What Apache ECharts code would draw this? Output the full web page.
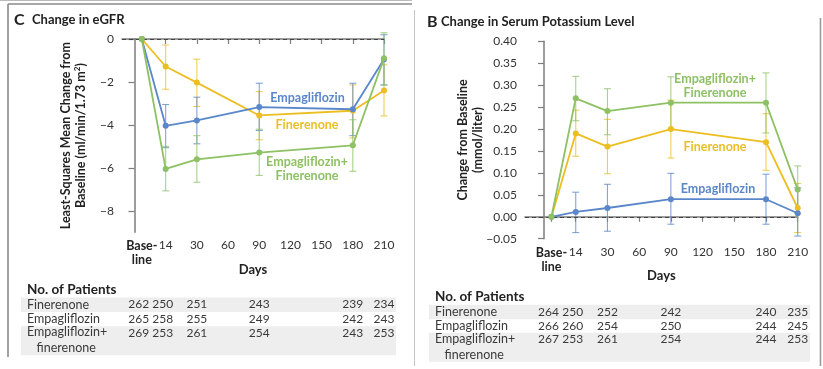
<!DOCTYPE html>
<html><head><meta charset="utf-8">
<script src="https://cdn.jsdelivr.net/npm/echarts@6/dist/echarts.min.js"></script>
<style>html,body{margin:0;padding:0;background:#fff}#c{width:823px;height:369px}</style>
</head><body><div id="c"></div>
<script>
// ---------- data ----------
const tickLabels = ['Base-line','14','30','60','90','120','150','180','210'];
const tickPos = [0.235, 1, 2, 3, 4, 5, 6, 7, 8];           // axis coordinate of each tick
const timeIdx = [0, 1, 2, 4, 7, 8];                         // measured timepoints -> tick index

// eGFR (ml/min/1.73 m2)
const egfrFin      = [0, -1.28, -2.03, -3.56, -3.34, -2.40];
const egfrFinLo    = [null, -2.34, -3.14, -4.69, -4.61, -3.58];
const egfrFinHi    = [null, -0.28, -0.94, -2.45, -2.14, -1.20];
const egfrEmp      = [0, -4.04, -3.79, -3.17, -3.27, -0.94];
const egfrEmpLo    = [null, -5.06, -4.88, -4.26, -4.50, -2.14];
const egfrEmpHi    = [null, -3.05, -2.71, -2.06, -2.06, 0.20];
const egfrCombo    = [0, -6.05, -5.60, -5.29, -4.95, -0.90];
const egfrComboLo  = [null, -7.07, -6.67, -6.35, -6.16, -2.14];
const egfrComboHi  = [null, -5.00, -4.50, -4.20, -3.76, 0.29];

// Serum potassium (mmol/liter)
const kFin     = [0, 0.19, 0.16, 0.20, 0.17, 0.02];
const kFinLo   = [null, 0.138, 0.098, 0.134, 0.106, -0.036];
const kFinHi   = [null, 0.243, 0.222, 0.266, 0.235, 0.076];
const kEmp     = [0, 0.011, 0.02, 0.04, 0.04, 0.008];
const kEmpLo   = [null, -0.036, -0.033, -0.017, -0.017, -0.044];
const kEmpHi   = [null, 0.056, 0.074, 0.099, 0.097, 0.066];
const kCombo   = [0, 0.27, 0.241, 0.26, 0.26, 0.062];
const kComboLo = [null, 0.219, 0.187, 0.200, 0.191, 0.008];
const kComboHi = [null, 0.320, 0.292, 0.319, 0.328, 0.116];

// Number of patients
const rowNames = ['Finerenone', 'Empagliflozin', 'Empagliflozin+\n   finerenone'];
const nEgfrFin   = [262, 250, 251, 243, 239, 234];
const nEgfrEmp   = [265, 258, 255, 249, 242, 243];
const nEgfrCombo = [269, 253, 261, 254, 243, 253];
const nKFin      = [264, 250, 252, 242, 240, 235];
const nKEmp      = [266, 260, 254, 250, 244, 245];
const nKCombo    = [267, 253, 261, 254, 244, 253];

// ---------- styles ----------
const BLUE = '#5a87c9', YEL = '#ecbe22', GRN = '#8dc163';
const FONT = 'Lato, "Open Sans", sans-serif';
const AXC = '#7d7d7d';

function pts(vals) { return vals.map((v, i) => [tickPos[timeIdx[i]], v]); }
function bars(lo, hi) {
  const out = [];
  lo.forEach((l, i) => { if (l !== null) out.push([tickPos[timeIdx[i]], l, hi[i]]); });
  return out;
}

function xAxisFor(gi, min) {
  return {
    type: 'value', gridIndex: gi, min: min, max: 8,
    name: 'Days', nameLocation: 'middle', nameGap: 31, nameMoveOverlap: false,
    nameTextStyle: { fontFamily: FONT, fontWeight: 'bold', fontSize: 13, color: '#222' },
    axisLine: { show: true, lineStyle: { color: AXC, width: 1.5 } },
    axisTick: { show: true, customValues: tickPos, length: 5, lineStyle: { color: AXC, width: 1.2 } },
    axisLabel: {
      customValues: tickPos, margin: 7, color: '#333', fontFamily: FONT, fontSize: 12,
      formatter: v => {
        let best = 0; tickPos.forEach((p, i) => { if (Math.abs(p - v) < Math.abs(tickPos[best] - v)) best = i; });
        const t = tickLabels[best];
        return best === 0 ? '{b|Base-}\n{b|line}' : t;
      },
      rich: { b: { fontFamily: FONT, fontWeight: 'bold', fontSize: 12.5, color: '#222', lineHeight: 14 } }
    },
    splitLine: { show: false }
  };
}

function lineSeries(gi, name, data, color, z) {
  return {
    type: 'line', name, xAxisIndex: gi, yAxisIndex: gi, data: pts(data),
    symbol: 'circle', symbolSize: 6, clip: false,
    lineStyle: { color, width: 1.8 }, itemStyle: { color }, z: z
  };
}
function errSeries(gi, lo, hi, color, z) {
  return {
    type: 'custom', xAxisIndex: gi, yAxisIndex: gi, data: bars(lo, hi), clip: false, z: z,
    renderItem: (params, api) => {
      const x = api.value(0);
      const a = api.coord([x, api.value(1)]);
      const b = api.coord([x, api.value(2)]);
      const w = 3.5;
      const st = { stroke: color, lineWidth: 1.1, opacity: 0.75 };
      return { type: 'group', children: [
        { type: 'line', shape: { x1: a[0], y1: a[1], x2: b[0], y2: b[1] }, style: st },
        { type: 'line', shape: { x1: a[0] - w, y1: a[1], x2: a[0] + w, y2: a[1] }, style: st },
        { type: 'line', shape: { x1: b[0] - w, y1: b[1], x2: b[0] + w, y2: b[1] }, style: st }
      ]};
    }
  };
}
function zeroLine(gi) {
  return {
    type: 'line', xAxisIndex: gi, yAxisIndex: gi, data: [], silent: true,
    markLine: { silent: true, symbol: 'none', label: { show: false },
      lineStyle: { type: [4, 3], color: '#444', width: 1 }, data: [{ yAxis: 0 }] }
  };
}

const chart = echarts.init(document.getElementById('c'), null, { renderer: 'canvas' });

const option = {
  animation: false,
  grid: [
    { left: 122, top: 39, width: 262, height: 193.3 },
    { left: 525, top: 41.3, width: 272.7, height: 197.4 }
  ],
  xAxis: [xAxisFor(0, -0.4), xAxisFor(1, -0.6)],
  yAxis: [
    {
      type: 'value', gridIndex: 0, min: -9, max: 0,
      name: 'Least-Squares Mean Change from\nBaseline (ml/min/1.73 m{s|2})', nameLocation: 'middle', nameGap: 34, nameRotate: 90, nameMoveOverlap: false,
      nameTextStyle: { fontFamily: FONT, fontWeight: 'bold', fontSize: 12.5, color: '#222', lineHeight: 15,
        rich: { s: { fontFamily: FONT, fontWeight: 'bold', fontSize: 8, verticalAlign: 'top', color: '#222' } } },
      axisLine: { show: true, lineStyle: { color: AXC, width: 1.5 } },
      axisTick: { show: true, customValues: [0, -2, -4, -6, -8], length: 6, lineStyle: { color: AXC, width: 1.2 } },
      axisLabel: { customValues: [0, -2, -4, -6, -8], margin: 8, color: '#333', fontFamily: FONT, fontSize: 12,
        formatter: v => (v < 0 ? '\u2212' + (-v) : String(v)) },
      splitLine: { show: false }
    },
    {
      type: 'value', gridIndex: 1, min: -0.05, max: 0.40, interval: 0.05,
      name: 'Change from Baseline\n(mmol/liter)', nameLocation: 'middle', nameGap: 40, nameRotate: 90, nameMoveOverlap: false,
      nameTextStyle: { fontFamily: FONT, fontWeight: 'bold', fontSize: 12.5, color: '#222', lineHeight: 15 },
      axisLine: { show: true, lineStyle: { color: AXC, width: 1.5 } },
      axisTick: { show: true, length: 6, lineStyle: { color: AXC, width: 1.2 } },
      axisLabel: { margin: 8, color: '#333', fontFamily: FONT, fontSize: 12,
        formatter: v => (v < 0 ? '\u2212' + (-v).toFixed(2) : v.toFixed(2)) },
      splitLine: { show: false }
    }
  ],
  series: [
    zeroLine(0), zeroLine(1),
    errSeries(0, egfrFinLo, egfrFinHi, YEL, 2),
    errSeries(0, egfrEmpLo, egfrEmpHi, BLUE, 2),
    errSeries(0, egfrComboLo, egfrComboHi, GRN, 2),
    lineSeries(0, 'Finerenone', egfrFin, YEL, 3),
    lineSeries(0, 'Empagliflozin', egfrEmp, BLUE, 4),
    lineSeries(0, 'Empagliflozin+Finerenone', egfrCombo, GRN, 5),
    errSeries(1, kFinLo, kFinHi, YEL, 2),
    errSeries(1, kEmpLo, kEmpHi, BLUE, 2),
    errSeries(1, kComboLo, kComboHi, GRN, 2),
    lineSeries(1, 'Finerenone', kFin, YEL, 3),
    lineSeries(1, 'Empagliflozin', kEmp, BLUE, 4),
    lineSeries(1, 'Empagliflozin+Finerenone', kCombo, GRN, 5)
  ]
};
chart.setOption(option);

// ---------- graphics: frame, titles, inline labels, patient table ----------
const g = [];
function line(x1, y1, x2, y2, color, w) {
  g.push({ type: 'line', shape: { x1, y1, x2, y2 }, style: { stroke: color, lineWidth: w }, silent: true });
}
function text(x, y, t, opt) {
  g.push({ type: 'text', x, y, silent: true, style: Object.assign({
    text: t, fontFamily: FONT, fontSize: 12, fill: '#333', textAlign: 'left', textVerticalAlign: 'middle' }, opt || {}) });
}
function rect(x, y, w, h, c) {
  g.push({ type: 'rect', shape: { x, y, width: w, height: h }, style: { fill: c }, silent: true, z: -1 });
}

// frame lines
line(0, 0.5, 412, 0.5, '#bbbbbb', 1);
line(8, 4, 412, 4, '#8a8a8a', 1.6);
line(8, 4, 8, 357, '#8a8a8a', 1.6);
line(414.5, 10, 414.5, 366, '#c4c4c4', 1);
line(820.5, 18, 820.5, 366, '#9a9a9a', 1.6);

// titles
text(14, 19.5, 'C', { fontSize: 16, fontWeight: 'bold', fill: '#222' });
text(32, 19.5, 'Change in eGFR', { fontSize: 13, fontWeight: 'bold', fill: '#222' });
text(427, 21.5, 'B', { fontSize: 16, fontWeight: 'bold', fill: '#222' });
text(441, 21.5, 'Change in Serum Potassium Level', { fontSize: 13, fontWeight: 'bold', fill: '#222' });

// inline series labels
const lab = (x, y, t, c) => text(x, y, t, { textAlign: 'center', fontSize: 12.5, fontWeight: 'bold', fill: c, lineHeight: 14 });
lab(307.5, 97.5, 'Empagliflozin', BLUE);
lab(307, 125, 'Finerenone', YEL);
lab(307, 169, 'Empagliflozin+\nFinerenone', GRN);
lab(715, 86, 'Empagliflozin+\nFinerenone', GRN);
lab(715, 146.7, 'Finerenone', YEL);
lab(718, 189, 'Empagliflozin', BLUE);

// patient tables
function table(gi, x0, bandL, bandR, yHead, rowYs, nums) {
  text(x0, yHead, 'No. of Patients', { fontSize: 13.5, fontWeight: 'bold', fill: '#222' });
  rect(bandL, rowYs[0] - 7, bandR - bandL, 14.5, '#eeeeee');
  rect(bandL, rowYs[2] - 6.5, bandR - bandL, 29, '#eeeeee');
  rowNames.forEach((nm, r) => {
    text(x0, rowYs[r] + (r === 2 ? 7.5 : 0), nm, { fontSize: 12.5, fill: '#3a3a3a', lineHeight: 15.5 });
    nums[r].forEach((n, i) => {
      const px = chart.convertToPixel({ gridIndex: gi }, [tickPos[timeIdx[i]], 0])[0] + (i < 2 ? -3 : 0);
      text(px, rowYs[r], String(n), { textAlign: 'center', fontSize: 12, fill: '#3a3a3a' });
    });
  });
}
table(0, 27, 21, 396, 290, [304.5, 319, 332.7], [nEgfrFin, nEgfrEmp, nEgfrCombo]);
table(1, 435, 429, 810, 296.5, [311.7, 326, 339.3], [nKFin, nKEmp, nKCombo]);

chart.setOption({ graphic: { elements: g } });
</script></body></html>
